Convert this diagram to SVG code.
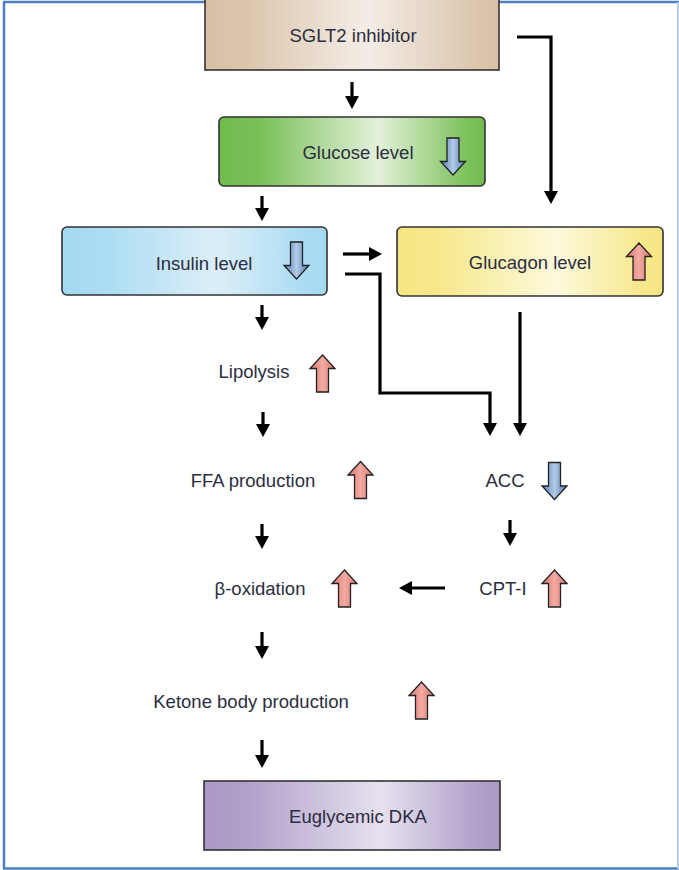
<svg xmlns="http://www.w3.org/2000/svg" width="679" height="870" viewBox="0 0 679 870">
<style>
.box{stroke:#333;stroke-width:1.6}
.lbl{font-family:"Liberation Sans",Arial,sans-serif;font-size:18.5px;fill:#2b2d40;text-anchor:middle}
.con{fill:none;stroke:#000;stroke-width:3.2;marker-end:url(#ah)}
.up{fill:url(#gPink);stroke:#222;stroke-width:1.3}
.dn{fill:url(#gBlue);stroke:#222;stroke-width:1.3}
</style>
<defs>
<marker id="ah" markerUnits="userSpaceOnUse" viewBox="0 0 13 14" markerWidth="13" markerHeight="14" refX="1" refY="7" orient="auto">
<path d="M0,0 L13,7 L0,14 Z" fill="#000"/>
</marker>
<linearGradient id="gTan" x1="0" x2="1" y1="0" y2="0"><stop offset="0" stop-color="#d8c0a6"/><stop offset="0.15" stop-color="#dcc6ae"/><stop offset="0.55" stop-color="#f4ede6"/><stop offset="0.92" stop-color="#dcc6ae"/><stop offset="1" stop-color="#d8c0a6"/></linearGradient>
<linearGradient id="gGreen" x1="0" x2="1" y1="0" y2="0"><stop offset="0" stop-color="#70bb4e"/><stop offset="0.15" stop-color="#78c058"/><stop offset="0.6" stop-color="#e4f1da"/><stop offset="0.92" stop-color="#80c35f"/><stop offset="1" stop-color="#70bb4e"/></linearGradient>
<linearGradient id="gIns" x1="0" x2="1" y1="0" y2="0"><stop offset="0" stop-color="#a4d9f2"/><stop offset="0.15" stop-color="#aadcf3"/><stop offset="0.58" stop-color="#dceef8"/><stop offset="0.92" stop-color="#aadcf3"/><stop offset="1" stop-color="#a4d9f2"/></linearGradient>
<linearGradient id="gYel" x1="0" x2="1" y1="0" y2="0"><stop offset="0" stop-color="#f6e582"/><stop offset="0.15" stop-color="#f7e88c"/><stop offset="0.6" stop-color="#fdf9dc"/><stop offset="0.92" stop-color="#f7e88c"/><stop offset="1" stop-color="#f6e582"/></linearGradient>
<linearGradient id="gPur" x1="0" x2="1" y1="0" y2="0"><stop offset="0" stop-color="#ab98c6"/><stop offset="0.15" stop-color="#b2a1cb"/><stop offset="0.6" stop-color="#e6e1ef"/><stop offset="0.92" stop-color="#b2a1cb"/><stop offset="1" stop-color="#ab98c6"/></linearGradient>
<linearGradient id="gPink" x1="0" x2="1" y1="0" y2="0"><stop offset="0" stop-color="#d9776f"/><stop offset="0.5" stop-color="#f2aaa3"/><stop offset="1" stop-color="#d9776f"/></linearGradient>
<linearGradient id="gBlue" x1="0" x2="1" y1="0" y2="0"><stop offset="0" stop-color="#4f79b0"/><stop offset="0.5" stop-color="#b3cbe7"/><stop offset="1" stop-color="#4f79b0"/></linearGradient>
<path id="upA" d="M0,-18.5 L12.5,-5 L6,-5 L6,18.5 L-6,18.5 L-6,-5 L-12.5,-5 Z"/>
<path id="dnA" d="M0,18.5 L12.5,5 L6,5 L6,-18.5 L-6,-18.5 L-6,5 L-12.5,5 Z"/>
</defs>
<rect width="679" height="870" fill="#fff"/>
<g id="frame" fill="none">
<line x1="3" y1="2" x2="679" y2="2" stroke="#4f7fc0" stroke-width="2.5"/>
<line x1="4" y1="2" x2="4" y2="869" stroke="#4f7fc0" stroke-width="2.5"/>
<line x1="3" y1="868.5" x2="679" y2="868.5" stroke="#4f7fc0" stroke-width="2.5"/>
<line x1="678" y1="2" x2="678" y2="869" stroke="#b9cde6" stroke-width="2"/>
</g>
<g id="connectors">
<line class="con" x1="352" y1="82" x2="352" y2="97"/>
<path class="con" d="M517,37 H551 V192"/>
<line class="con" x1="262" y1="196" x2="262" y2="209"/>
<line class="con" x1="343" y1="254" x2="370" y2="254"/>
<path class="con" d="M345,274 H380 V393 H490 V424"/>
<line class="con" x1="520" y1="312" x2="520" y2="424"/>
<line class="con" x1="262" y1="305" x2="262" y2="318"/>
<line class="con" x1="263" y1="412" x2="263" y2="425"/>
<line class="con" x1="262" y1="524" x2="262" y2="537"/>
<line class="con" x1="510" y1="520" x2="510" y2="534"/>
<line class="con" x1="445" y1="588" x2="411" y2="588"/>
<line class="con" x1="262" y1="632" x2="262" y2="647"/>
<line class="con" x1="262" y1="740" x2="262" y2="756"/>
</g>
<g id="sglt2">
<rect class="box" x="205" y="-5" width="294" height="75" fill="url(#gTan)"/>
<text class="lbl" x="353" y="42">SGLT2 inhibitor</text>
</g>
<g id="glucose">
<rect class="box" x="219" y="117" width="266" height="69" rx="5" fill="url(#gGreen)"/>
<text class="lbl" x="358" y="159">Glucose level</text>
<use href="#dnA" class="dn" transform="translate(453,156.5)"/>
</g>
<g id="insulin">
<rect class="box" x="62" y="227" width="265" height="68" rx="5" fill="url(#gIns)"/>
<text class="lbl" x="204" y="270">Insulin level</text>
<use href="#dnA" class="dn" transform="translate(296.5,260.5)"/>
</g>
<g id="glucagon">
<rect class="box" x="397" y="227" width="266" height="69" rx="5" fill="url(#gYel)"/>
<text class="lbl" x="530" y="269">Glucagon level</text>
<use href="#upA" class="up" transform="translate(639,261.5)"/>
</g>
<g id="lipolysis">
<text class="lbl" x="254" y="378">Lipolysis</text>
<use href="#upA" class="up" transform="translate(322.5,373.5)"/>
</g>
<g id="ffa">
<text class="lbl" x="253" y="487">FFA production</text>
<use href="#upA" class="up" transform="translate(360.5,480)"/>
</g>
<g id="acc">
<text class="lbl" x="505" y="487">ACC</text>
<use href="#dnA" class="dn" transform="translate(554.5,481)"/>
</g>
<g id="betaox">
<text class="lbl" x="260" y="595">β-oxidation</text>
<use href="#upA" class="up" transform="translate(344.5,588.5)"/>
</g>
<g id="cpt1">
<text class="lbl" x="503" y="595">CPT-I</text>
<use href="#upA" class="up" transform="translate(554.5,588.5)"/>
</g>
<g id="ketone">
<text class="lbl" x="251" y="708">Ketone body production</text>
<use href="#upA" class="up" transform="translate(421.5,700.5)"/>
</g>
<g id="dka">
<rect class="box" x="204" y="781" width="296" height="69" fill="url(#gPur)"/>
<text class="lbl" x="358" y="823">Euglycemic DKA</text>
</g>
</svg>
